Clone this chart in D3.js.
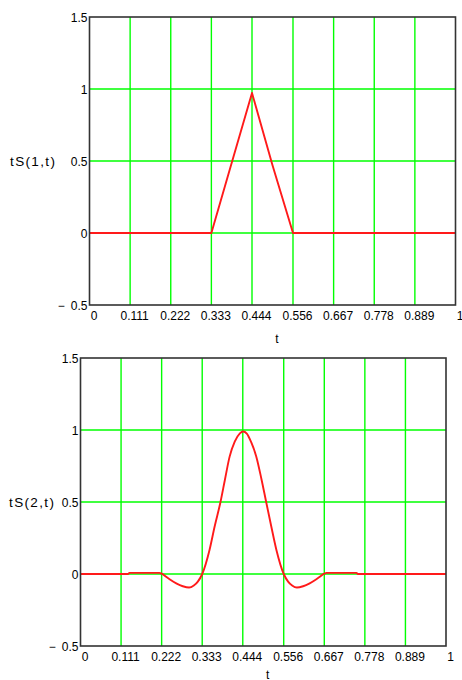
<!DOCTYPE html>
<html>
<head>
<meta charset="utf-8">
<script src="https://cdn.jsdelivr.net/npm/d3@7"></script>
<style>
  html, body { margin: 0; padding: 0; background: #fff; }
  svg { display: block; }
  text { font-family: "Liberation Sans", Arial, sans-serif; fill: #000; }
</style>
</head>
<body>
<svg id="chart" width="462" height="680"></svg>
<script>
// ---- data ----
const xTickValues = [0, 0.111, 0.222, 0.333, 0.444, 0.556, 0.667, 0.778, 0.889, 1];
const xTickLabels = ["0", "0.111", "0.222", "0.333", "0.444", "0.556", "0.667", "0.778", "0.889", "1"];
const yTickValues = [-0.5, 0, 0.5, 1, 1.5];
const yTickLabels = ["\u2212\u20020.5", "0", "0.5", "1", "1.5"];
const yGridValues = [0, 0.5, 1];

const s1T = [0, 0.333, 0.39, 0.444, 0.5, 0.556, 1];
const s1V = [0, 0, 0.5, 0.972, 0.47, 0, 0];

const s2T = [0, 0.130, 0.134, 0.216, 0.222, 0.24, 0.262, 0.28, 0.297, 0.31, 0.321, 0.333,
             0.353, 0.367, 0.383, 0.395, 0.408, 0.422, 0.436, 0.445, 0.455, 0.467, 0.481,
             0.495, 0.508, 0.522, 0.536, 0.556, 0.568, 0.579, 0.592, 0.609, 0.627, 0.649,
             0.667, 0.673, 0.755, 0.759, 1];
const s2V = [0, 0, 0.008, 0.008, 0.002, -0.03, -0.065, -0.085, -0.094, -0.08, -0.053, 0,
             0.167, 0.33, 0.5, 0.653, 0.815, 0.919, 0.977, 0.99, 0.975, 0.915, 0.815,
             0.66, 0.5, 0.33, 0.167, 0, -0.053, -0.08, -0.094, -0.085, -0.065, -0.03,
             0.002, 0.008, 0.008, 0, 0];

const panels = [
  { label: "tS(1,t)", t: s1T, v: s1V, left: 89.5, top: 17, width: 366, height: 288, curve: d3.curveLinear, labelX: 10 },
  { label: "tS(2,t)", t: s2T, v: s2V, left: 80.5, top: 358, width: 365.5, height: 288, curve: d3.curveMonotoneX, labelX: 9 }
];

const svg = d3.select("#chart");

panels.forEach(p => {
  const x = d3.scaleLinear().domain([0, 1]).range([p.left, p.left + p.width]);
  const y = d3.scaleLinear().domain([-0.5, 1.5]).range([p.top + p.height, p.top]);
  const g = svg.append("g");

  // vertical grid
  g.selectAll(".vg").data(xTickValues.slice(1, -1)).enter().append("line")
    .attr("x1", d => x(d)).attr("x2", d => x(d))
    .attr("y1", y(-0.5)).attr("y2", y(1.5))
    .attr("stroke", "#00ff00").attr("stroke-width", 1.4);
  // horizontal grid
  g.selectAll(".hg").data(yGridValues).enter().append("line")
    .attr("x1", x(0)).attr("x2", x(1))
    .attr("y1", d => y(d)).attr("y2", d => y(d))
    .attr("stroke", "#00ff00").attr("stroke-width", 1.4);

  // series
  const pts = p.t.map((t, i) => [t, p.v[i]]);
  g.append("path").datum(pts)
    .attr("fill", "none").attr("stroke", "#ff1a1a").attr("stroke-width", 1.9)
    .attr("stroke-linejoin", "round")
    .attr("d", d3.line().x(d => x(d[0])).y(d => y(d[1])).curve(p.curve));

  // frame
  g.append("rect")
    .attr("x", x(0)).attr("y", y(1.5))
    .attr("width", x(1) - x(0)).attr("height", y(-0.5) - y(1.5))
    .attr("fill", "none").attr("stroke", "#333").attr("stroke-width", 1.6);

  // x tick labels
  g.selectAll(".xl").data(xTickValues).enter().append("text")
    .attr("x", d => x(d) + 4.5).attr("y", y(-0.5) + 14.5)
    .attr("text-anchor", "middle").attr("font-size", 12)
    .text((d, i) => xTickLabels[i]);
  // y tick labels
  g.selectAll(".yl").data(yTickValues).enter().append("text")
    .attr("x", x(0) - 2).attr("y", d => y(d) + 5)
    .attr("text-anchor", "end").attr("font-size", 12)
    .text((d, i) => yTickLabels[i]);

  // axis titles
  g.append("text")
    .attr("x", (x(0) + x(1)) / 2 + 4.5).attr("y", Math.min(y(-0.5) + 38, 678.5))
    .attr("text-anchor", "middle").attr("font-size", 12)
    .text("t");
  g.append("text")
    .attr("x", p.labelX).attr("y", (y(-0.5) + y(1.5)) / 2 + 4.5)
    .attr("font-size", 13.5).attr("textLength", 45).attr("lengthAdjust", "spacing")
    .text(p.label);
});
</script>
</body>
</html>
